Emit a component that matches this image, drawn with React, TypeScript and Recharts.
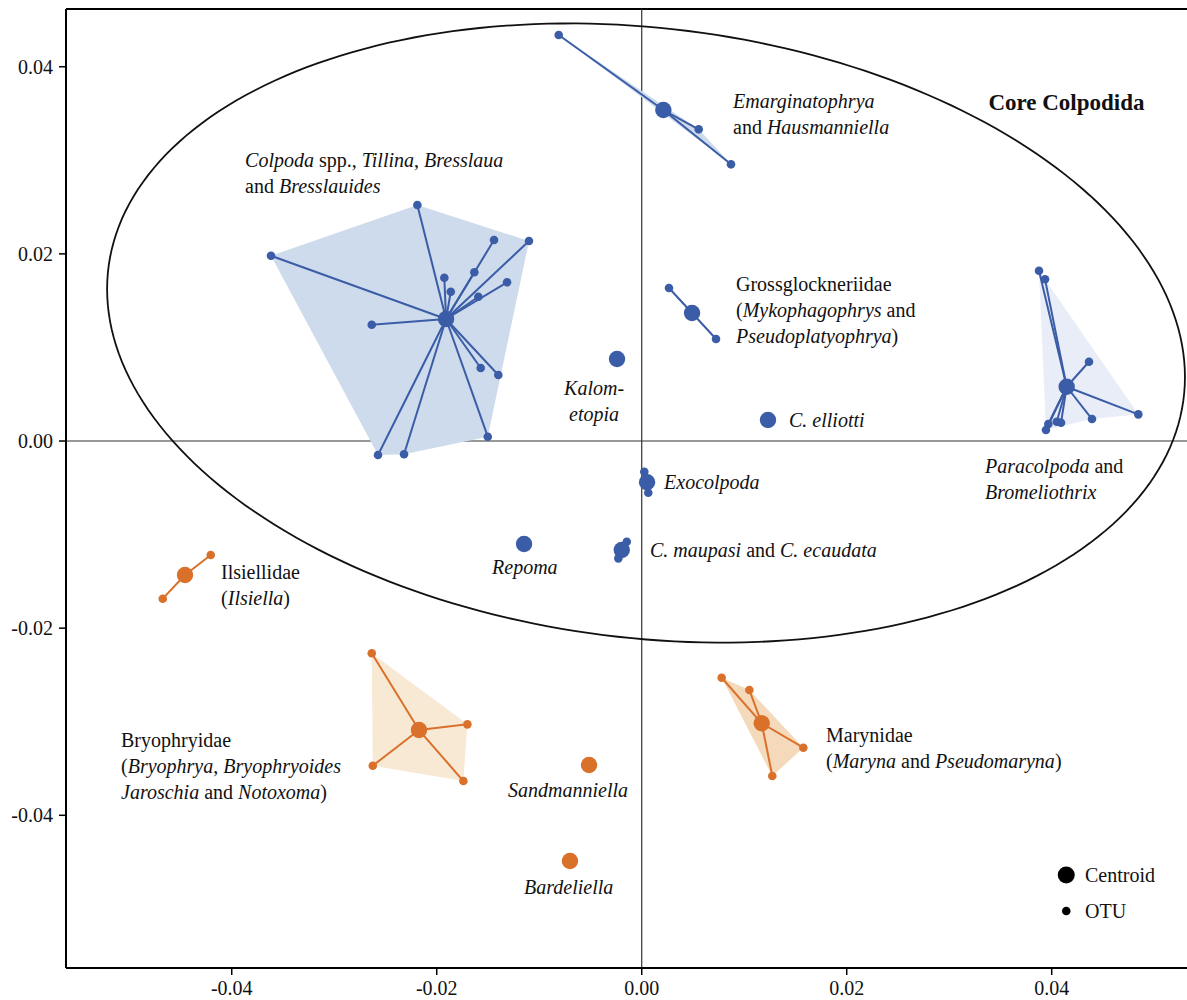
import React from 'react';
import { ScatterChart, Scatter, XAxis, YAxis, ReferenceLine } from 'recharts';

if (typeof document !== 'undefined') document.body.style.margin = '0';

const FONT = '"Liberation Serif", "Times New Roman", serif';
const BLUE = '#3b5ca6';
const ORANGE = '#d9712b';

const X_DOMAIN: [number, number] = [-0.05617, 0.0532];
const Y_DOMAIN: [number, number] = [-0.05632, 0.04617];
const X_TICKS = [-0.04, -0.02, 0, 0.02, 0.04];
const Y_TICKS = [-0.04, -0.02, 0, 0.02, 0.04];

type P = [number, number];

// ---- Colpoda spp., Tillina, Bresslaua, Bresslauides
const colpodaCentroid: P = [-0.01909, 0.01304];
const colpodaOTUs: P[] = [
  [-0.03617, 0.0198], [-0.02189, 0.02522], [-0.01441, 0.02148], [-0.011, 0.02137],
  [-0.01926, 0.01745], [-0.01863, 0.01596], [-0.01633, 0.01803], [-0.01314, 0.01696],
  [-0.01594, 0.01542], [-0.02634, 0.01243], [-0.01571, 0.0078], [-0.01399, 0.00705],
  [-0.01502, 0.00046], [-0.02319, -0.00142], [-0.02573, -0.0015],
];
const colpodaHull: P[] = [
  [-0.03617, 0.0198], [-0.02189, 0.02522], [-0.011, 0.02137], [-0.01502, 0.00046],
  [-0.02319, -0.00142], [-0.02573, -0.0015],
];

// ---- Emarginatophrya and Hausmanniella
const emargCentroid: P = [0.00211, 0.03537];
const emargOTUs: P[] = [[-0.0081, 0.04339], [0.00556, 0.03331], [0.00871, 0.02957]];
const emargHull: P[] = [[-0.0081, 0.04339], [0.00556, 0.03331], [0.00871, 0.02957]];

// ---- Grossglockneriidae
const grossCentroid: P = [0.00491, 0.01368];
const grossOTUs: P[] = [[0.00266, 0.01635], [0.00725, 0.0109]];

// ---- Paracolpoda and Bromeliothrix
const paraCentroid: P = [0.04146, 0.0058];
const paraOTUs: P[] = [
  [0.03876, 0.0182], [0.03935, 0.01728], [0.04364, 0.00847], [0.04845, 0.00285],
  [0.04393, 0.00235], [0.04091, 0.00196], [0.04049, 0.00206], [0.03967, 0.00182],
  [0.03944, 0.00118],
];
const paraHull: P[] = [[0.03876, 0.0182], [0.04845, 0.00285], [0.04393, 0.00235], [0.03944, 0.00118]];

// ---- Exocolpoda
const exoCentroid: P = [0.00052, -0.00441];
const exoOTUs: P[] = [[0.00025, -0.00328], [0.00064, -0.00553]];

// ---- C. maupasi and C. ecaudata
const maupasiCentroid: P = [-0.00195, -0.01165];
const maupasiOTUs: P[] = [[-0.00146, -0.01076], [-0.00228, -0.01254]];

// ---- single centroids (blue)
const kalometopia: P = [-0.00241, 0.00876];
const cElliotti: P = [0.01232, 0.00224];
const repoma: P = [-0.01148, -0.01101];

// ---- Ilsiellidae
const ilsCentroid: P = [-0.04456, -0.01432];
const ilsOTUs: P[] = [[-0.04205, -0.01218], [-0.04673, -0.01685]];

// ---- Bryophryidae
const bryoCentroid: P = [-0.02173, -0.03089];
const bryoOTUs: P[] = [[-0.02634, -0.02269], [-0.01701, -0.03028], [-0.0174, -0.03634], [-0.02624, -0.0347]];
const bryoHull: P[] = [[-0.02634, -0.02269], [-0.01701, -0.03028], [-0.0174, -0.03634], [-0.02624, -0.0347]];

// ---- Marynidae
const maryCentroid: P = [0.01171, -0.03017];
const maryOTUs: P[] = [[0.0078, -0.0253], [0.0105, -0.02661], [0.01577, -0.03278], [0.01274, -0.0358]];
const maryHull: P[] = [[0.0078, -0.0253], [0.0105, -0.02661], [0.01577, -0.03278], [0.01274, -0.0358]];

// ---- single centroids (orange)
const sandmanniella: P = [-0.00514, -0.03463];
const bardeliella: P = [-0.007, -0.04489];

// ---- Core Colpodida ellipse: centre, end of horizontal-extreme radius, conjugate (vertical) radius end
const ellipseDef: P[] = [[0.00042, 0.01154], [0.053, 0.00684], [0.00042, 0.04429]];

// ---- legend
const legendCentroid: P = [0.04142, -0.04638];
const legendOTU: P = [0.04142, -0.05023];

// ---- labels (* toggles italics)
const labels = [
  { x: 0.04144, y: 0.03537, anchor: 'middle', bold: true, size: 23, lines: ['Core Colpodida'] },
  { x: 0.00891, y: 0.03559, lines: ['*Emarginatophrya*', 'and *Hausmanniella*'] },
  { x: -0.0387, y: 0.02928, lines: ['*Colpoda* spp., *Tillina*, *Bresslaua*', 'and *Bresslauides*'] },
  { x: 0.0092, y: 0.01603, lines: ['Grossglockneriidae', '(*Mykophagophrys* and', '*Pseudoplatyophrya*)'] },
  { x: -0.00465, y: 0.00492, anchor: 'middle', lines: ['*Kalom-*', '*etopia*'] },
  { x: 0.01437, y: 0.0015, lines: ['*C. elliotti*'] },
  { x: 0.03349, y: -0.00342, lines: ['*Paracolpoda* and', '*Bromeliothrix*'] },
  { x: 0.00218, y: -0.00513, lines: ['*Exocolpoda*'] },
  { x: 0.00081, y: -0.0124, lines: ['*C. maupasi* and *C. ecaudata*'] },
  { x: -0.0146, y: -0.01421, lines: ['*Repoma*'] },
  { x: -0.04104, y: -0.01475, lines: ['Ilsiellidae', '(*Ilsiella*)'] },
  { x: -0.0508, y: -0.0327, lines: ['Bryophryidae', '(*Bryophrya*, *Bryophryoides*', '*Jaroschia* and *Notoxoma*)'] },
  { x: -0.01304, y: -0.03805, lines: ['*Sandmanniella*'] },
  { x: -0.01148, y: -0.04841, lines: ['*Bardeliella*'] },
  { x: 0.01798, y: -0.03217, lines: ['Marynidae', '(*Maryna* and *Pseudomaryna*)'] },
  { x: 0.04325, y: -0.04713, lines: ['Centroid'] },
  { x: 0.04325, y: -0.05098, lines: ['OTU'] },
];

const toPts = (arr: P[]) => arr.map(([x, y]) => ({ x, y }));

const groups = [
  { id: 'colpoda', color: BLUE, hullFill: '#cddbec', centroid: colpodaCentroid, otus: colpodaOTUs, hull: colpodaHull },
  { id: 'emarg', color: BLUE, hullFill: '#cddbec', centroid: emargCentroid, otus: emargOTUs, hull: emargHull },
  { id: 'gross', color: BLUE, hullFill: '', centroid: grossCentroid, otus: grossOTUs, hull: [] as P[] },
  { id: 'para', color: BLUE, hullFill: '#e8edf8', centroid: paraCentroid, otus: paraOTUs, hull: paraHull },
  { id: 'exo', color: BLUE, hullFill: '', centroid: exoCentroid, otus: exoOTUs, hull: [] as P[] },
  { id: 'maupasi', color: BLUE, hullFill: '', centroid: maupasiCentroid, otus: maupasiOTUs, hull: [] as P[] },
  { id: 'kalo', color: BLUE, hullFill: '', centroid: kalometopia, otus: [] as P[], hull: [] as P[] },
  { id: 'elli', color: BLUE, hullFill: '', centroid: cElliotti, otus: [] as P[], hull: [] as P[] },
  { id: 'repoma', color: BLUE, hullFill: '', centroid: repoma, otus: [] as P[], hull: [] as P[] },
  { id: 'ils', color: ORANGE, hullFill: '', centroid: ilsCentroid, otus: ilsOTUs, hull: [] as P[] },
  { id: 'bryo', color: ORANGE, hullFill: '#f8e9d5', centroid: bryoCentroid, otus: bryoOTUs, hull: bryoHull },
  { id: 'mary', color: ORANGE, hullFill: '#f4dabb', centroid: maryCentroid, otus: maryOTUs, hull: maryHull },
  { id: 'sand', color: ORANGE, hullFill: '', centroid: sandmanniella, otus: [] as P[], hull: [] as P[] },
  { id: 'bard', color: ORANGE, hullFill: '', centroid: bardeliella, otus: [] as P[], hull: [] as P[] },
];

const Empty = () => <g />;

const hullLine = (fill: string) => (props: any) => {
  const pts = props.points || [];
  return <polygon points={pts.map((p: any) => `${p.x},${p.y}`).join(' ')} fill={fill} stroke="none" />;
};

const spokeLine = (color: string) => (props: any) => {
  const pts = props.points || [];
  if (pts.length < 2) return <g />;
  const c = pts[0];
  return (
    <g>
      {pts.slice(1).map((p: any, i: number) => (
        <line key={i} x1={c.x} y1={c.y} x2={p.x} y2={p.y} stroke={color} strokeWidth={2} />
      ))}
    </g>
  );
};

const ellipseLine = (props: any) => {
  const pts = props.points || [];
  if (pts.length < 3) return <g />;
  const [c, r, v] = pts;
  const ux = r.x - c.x, uy = r.y - c.y, vx = v.x - c.x, vy = v.y - c.y;
  let d = '';
  const n = 240;
  for (let i = 0; i <= n; i++) {
    const t = (i / n) * Math.PI * 2;
    const px = c.x + ux * Math.cos(t) + vx * Math.sin(t);
    const py = c.y + uy * Math.cos(t) + vy * Math.sin(t);
    d += (i === 0 ? 'M' : 'L') + px.toFixed(2) + ',' + py.toFixed(2);
  }
  return <path d={d + 'Z'} fill="none" stroke="#111" strokeWidth={1.8} />;
};

const dot = (r: number, color: string) => (props: any) => (
  <circle cx={props.cx} cy={props.cy} r={r} fill={color} stroke="none" />
);

const LabelShape = (props: any) => {
  const { cx, cy, payload } = props;
  const lines: string[] = payload.lines;
  return (
    <text
      x={cx}
      y={cy}
      textAnchor={payload.anchor || 'start'}
      fontSize={payload.size || 20}
      fontFamily={FONT}
      fontWeight={payload.bold ? 'bold' : 'normal'}
      fill="#111"
    >
      {lines.map((ln, i) => (
        <tspan key={i} x={cx} dy={i === 0 ? 0 : 26}>
          {ln.split('*').map((seg, j) => (
            <tspan key={j} fontStyle={j % 2 === 1 ? 'italic' : 'normal'}>{seg}</tspan>
          ))}
        </tspan>
      ))}
    </text>
  );
};

const fmt = (v: number) => v.toFixed(2);

export default function App() {
  const tickStyle = { fill: '#111', fontSize: 20, fontFamily: FONT };
  return (
    <div style={{ width: 1187, height: 1000, fontFamily: FONT }}>
      <ScatterChart width={1187} height={1000} margin={{ top: 9, right: 0, bottom: 0, left: 0 }}>
        <XAxis
          type="number"
          dataKey="x"
          domain={X_DOMAIN}
          ticks={X_TICKS}
          allowDataOverflow
          height={32}
          tickFormatter={fmt}
          axisLine={{ stroke: '#000', strokeWidth: 2 }}
          tickLine={{ stroke: '#000', strokeWidth: 1.5 }}
          tickSize={7}
          tickMargin={6}
          tick={tickStyle}
        />
        <YAxis
          type="number"
          dataKey="y"
          domain={Y_DOMAIN}
          ticks={Y_TICKS}
          allowDataOverflow
          width={66}
          tickFormatter={fmt}
          axisLine={{ stroke: '#000', strokeWidth: 2 }}
          tickLine={{ stroke: '#000', strokeWidth: 1.5 }}
          tickSize={7}
          tickMargin={6}
          tick={tickStyle}
        />
        <ReferenceLine y={Y_DOMAIN[1]} stroke="#000" strokeWidth={2} />
        <ReferenceLine y={0} stroke="#333" strokeWidth={1.2} />
        <ReferenceLine x={0} stroke="#333" strokeWidth={1.2} />

        {groups.filter(g => g.hull.length > 2).map(g => (
          <Scatter
            key={'hull-' + g.id}
            data={toPts(g.hull)}
            shape={Empty}
            line={hullLine(g.hullFill)}
            isAnimationActive={false}
            legendType="none"
          />
        ))}

        <Scatter
          data={toPts(ellipseDef)}
          shape={Empty}
          line={ellipseLine}
          isAnimationActive={false}
          legendType="none"
        />

        {groups.filter(g => g.otus.length > 0).map(g => (
          <Scatter
            key={'spoke-' + g.id}
            data={toPts([g.centroid, ...g.otus])}
            shape={Empty}
            line={spokeLine(g.color)}
            isAnimationActive={false}
            legendType="none"
          />
        ))}

        {groups.filter(g => g.otus.length > 0).map(g => (
          <Scatter
            key={'otu-' + g.id}
            data={toPts(g.otus)}
            shape={dot(4.3, g.color)}
            isAnimationActive={false}
            legendType="none"
          />
        ))}

        {groups.map(g => (
          <Scatter
            key={'cen-' + g.id}
            data={toPts([g.centroid])}
            shape={dot(8.2, g.color)}
            isAnimationActive={false}
            legendType="none"
          />
        ))}

        <Scatter data={toPts([legendCentroid])} shape={dot(8.5, '#000')} isAnimationActive={false} legendType="none" />
        <Scatter data={toPts([legendOTU])} shape={dot(4.3, '#000')} isAnimationActive={false} legendType="none" />

        <Scatter data={labels} shape={LabelShape} isAnimationActive={false} legendType="none" />
      </ScatterChart>
    </div>
  );
}
